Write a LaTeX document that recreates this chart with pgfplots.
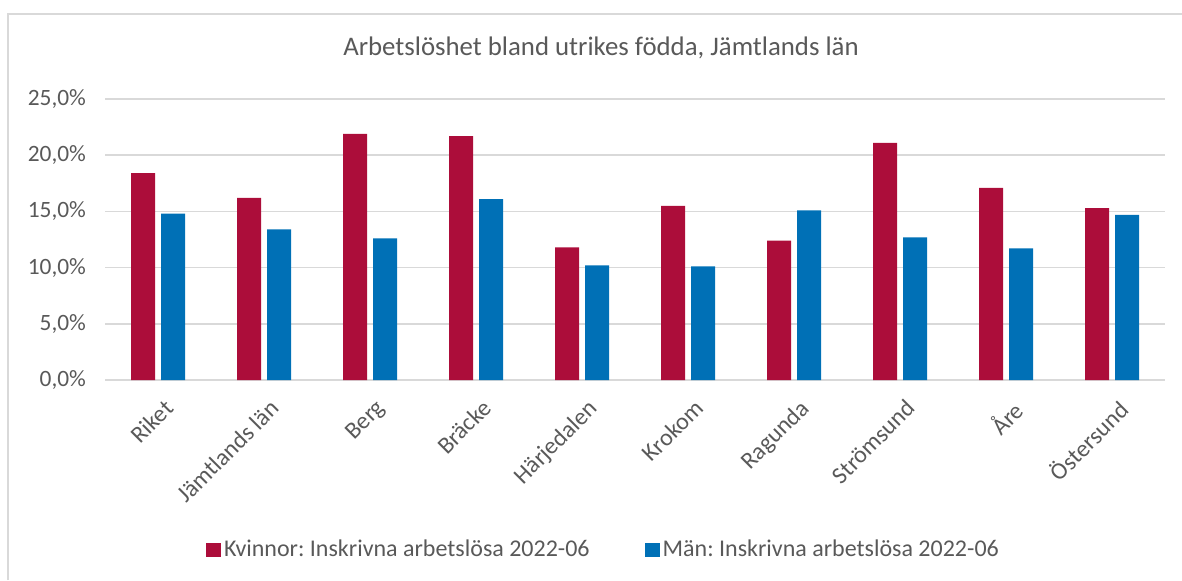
\documentclass[border=0pt]{standalone}
\usepackage{pgfplots}
\pgfplotsset{compat=1.18}
\usepackage{fontspec}
\setmainfont{Carlito}
\frenchspacing
\definecolor{kred}{RGB}{172,13,58}
\definecolor{mblue}{RGB}{0,112,182}
\definecolor{txt}{RGB}{89,89,89}
\definecolor{gridc}{RGB}{217,217,217}
\begin{document}
\begin{tikzpicture}
\useasboundingbox (0,0) rectangle (591pt,290pt);
\draw[gridc, line width=0.8pt] (4pt,0) -- (4pt,283pt) -- (591pt,283pt);
\node[text=txt, font=\fontsize{13.4}{16}\selectfont] at (300.5pt,266pt) {Arbetslöshet bland utrikes födda, Jämtlands län};
\begin{axis}[
  at={(52.5pt,100pt)}, anchor=south west,
  width=530pt, height=140.5pt, scale only axis,
  ybar=3pt, bar width=12pt,
  enlargelimits=false,
  xmin=-0.5, xmax=9.5, ymin=0, ymax=25,
  xtick=data,
  xticklabels={Riket,Jämtlands län,Berg,Bräcke,Härjedalen,Krokom,Ragunda,Strömsund,Åre,Östersund},
  ytick={0,5,10,15,20,25},
  yticklabels={{0,0\%},{5,0\%},{10,0\%},{15,0\%},{20,0\%},{25,0\%}},
  major tick length=0pt,
  axis line style={draw=none},
  ymajorgrids,
  grid style={gridc, line width=0.8pt},
  tick label style={text=txt},
  xticklabel style={rotate=45, anchor=north east, inner sep=1pt, xshift=-3.5pt, yshift=-7pt, font=\fontsize{12}{14}\selectfont},
  yticklabel style={anchor=east, xshift=-6pt, font=\fontsize{11.7}{13}\selectfont},
  legend style={at={(0.4708,-0.605)}, anchor=center, draw=none, fill=none,
    legend columns=2, font=\fontsize{12}{14}\selectfont, text=txt,
    nodes={inner xsep=1.5pt},
    /tikz/every even column/.append style={column sep=26pt}},
  legend image code/.code={\fill[#1] (0pt,-3.5pt) rectangle (7.5pt,3.5pt);},
]
\addplot[fill=kred, draw=none] coordinates {(0,18.4)(1,16.2)(2,21.9)(3,21.7)(4,11.8)(5,15.5)(6,12.4)(7,21.1)(8,17.1)(9,15.3)};
\addplot[fill=mblue, draw=none] coordinates {(0,14.8)(1,13.4)(2,12.6)(3,16.1)(4,10.2)(5,10.1)(6,15.1)(7,12.7)(8,11.7)(9,14.7)};
\legend{Kvinnor: Inskrivna arbetslösa 2022-06, Män: Inskrivna arbetslösa 2022-06}
\end{axis}
\end{tikzpicture}
\end{document}
